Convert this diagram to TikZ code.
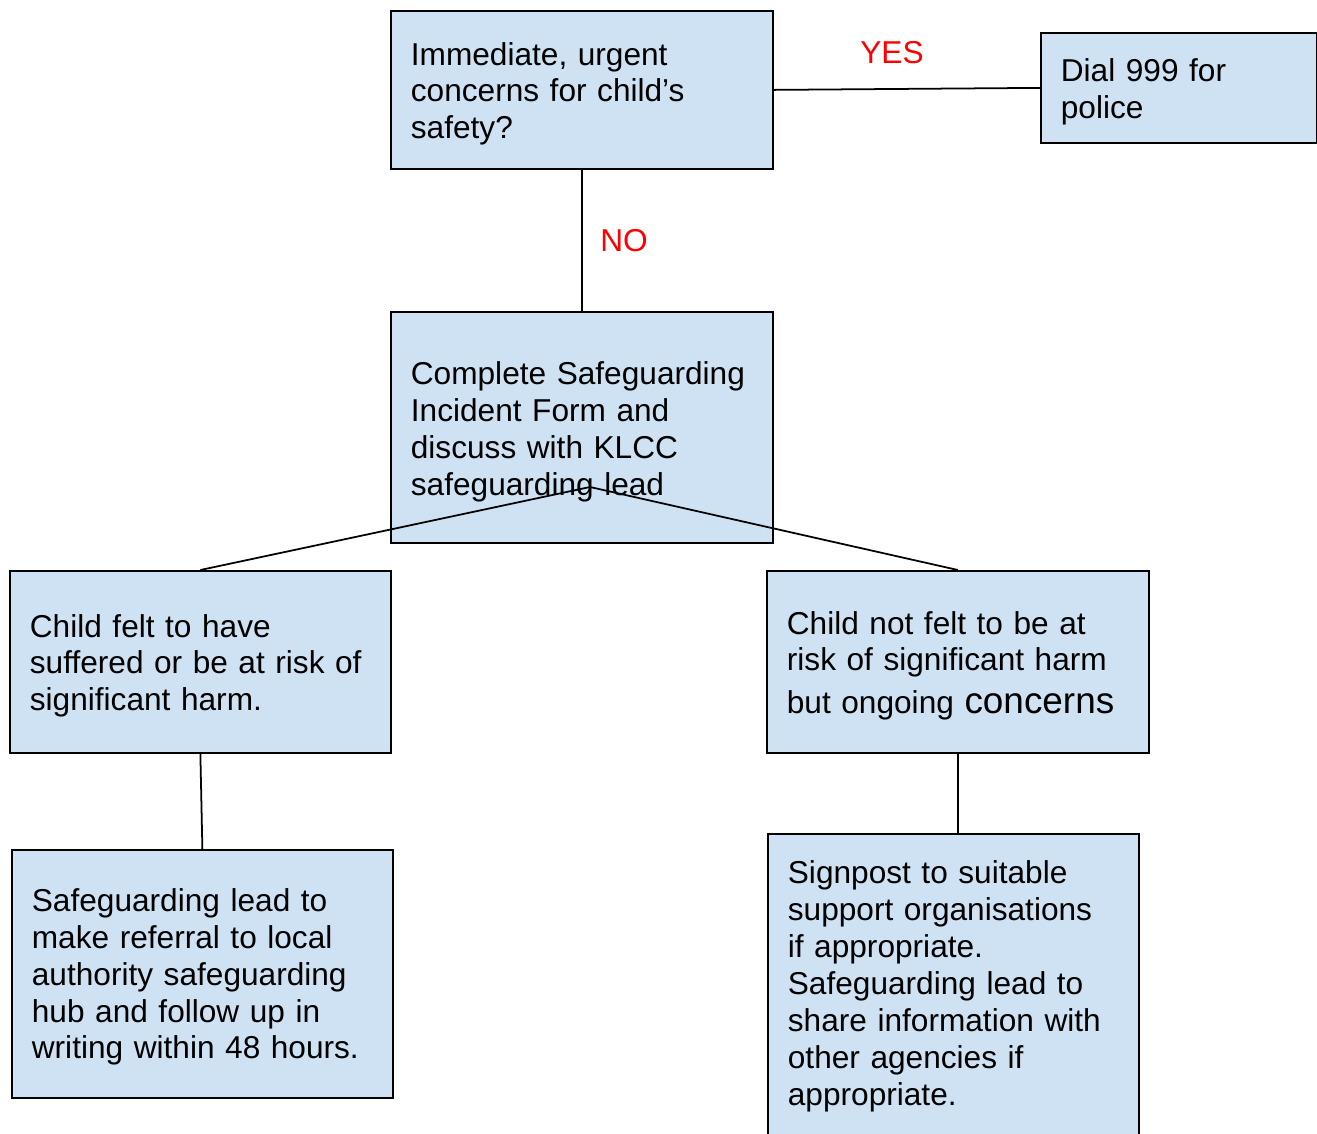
\documentclass[tikz,border=0pt]{standalone}
\usepackage{fontspec}
\setmainfont{Liberation Sans}
\usepackage{xcolor}
\definecolor{sgfill}{RGB}{207,226,243}
\definecolor{sgred}{RGB}{255,0,0}
\usetikzlibrary{positioning}

\begin{document}
\begin{tikzpicture}[
  sgbox/.style={draw=black,fill=sgfill,line width=1pt,anchor=north west,
    align=left,inner xsep=0.4cm,inner ysep=0pt,
    font=\fontsize{18}{21}\selectfont,
    execute at begin node={\rule{0pt}{#1}}},
  sgbox/.default=17.5pt,
  sglabel/.style={text=sgred,font=\fontsize{18}{21}\selectfont},
  sgline/.style={draw=black,line width=1pt}
]
  \useasboundingbox (0,0) rectangle (26.34,-22.68);

  % Question
  \node[sgbox,text width=6.84cm,minimum height=3.16cm] (urgent) at (7.80,-0.20)
    {Immediate, urgent\\concerns for child’s\\safety?};

  % Police
  \node[sgbox=18pt,text width=4.72cm,minimum height=2.20cm] (police) at (20.80,-0.64)
    {Dial 999 for\\police};

  % Form
  \node[sgbox=18pt,text width=6.84cm,minimum height=4.62cm] (form) at (7.80,-6.22)
    {Complete Safeguarding\\Incident Form and\\discuss with KLCC\\safeguarding lead};

  % Left branch
  \node[sgbox,text width=6.82cm,minimum height=3.64cm] (harm) at (0.18,-11.40)
    {Child felt to have\\suffered or be at risk of\\significant harm.};
  \node[sgbox=16.5pt,text width=6.82cm,minimum height=4.96cm] (referral) at (0.22,-16.98)
    {Safeguarding lead to\\make referral to local\\authority safeguarding\\hub and follow up in\\writing within 48 hours.};

  % Right branch
  \node[sgbox,text width=6.84cm,minimum height=3.64cm] (noharm) at (15.32,-11.40)
    {Child not felt to be at\\risk of significant harm\\[0.12cm]but ongoing {\fontsize{21}{21}\selectfont concerns}};
  \node[sgbox=14pt,text width=6.62cm,minimum height=6.06cm] (signpost) at (15.34,-16.66)
    {Signpost to suitable\\support organisations\\if appropriate.\\Safeguarding lead to\\share information with\\other agencies if\\appropriate.};

  % Labels
  \node[sglabel] (yes) at (17.84,-1.06) {YES};
  \node[sglabel] (no) at (12.48,-4.82) {NO};

  % Connectors
  \coordinate (split) at (11.80,-9.74);
  \draw[sgline] (urgent.east) -- (police.west);
  \draw[sgline] (urgent.south) -- (form.north);
  \draw[sgline] (split) -- (harm.north);
  \draw[sgline] (split) -- (noharm.north);
  \draw[sgline] (harm.south) -- (referral.north);
  \draw[sgline] (noharm.south) -- (noharm.south |- signpost.north);
\end{tikzpicture}
\end{document}
